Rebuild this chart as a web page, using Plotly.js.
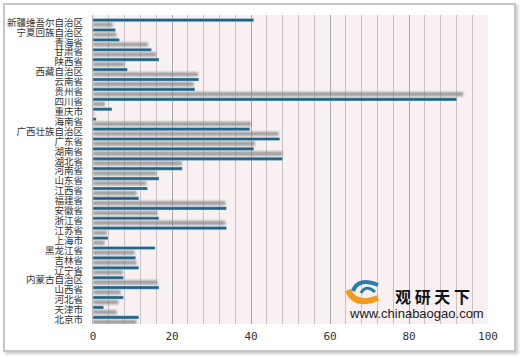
<!DOCTYPE html>
<html>
<head>
<meta charset="utf-8">
<script src="https://cdn.plot.ly/plotly-3.0.1.min.js"></script>
<style>
  html, body { margin: 0; padding: 0; background: #ffffff; }
  #wrap { position: relative; width: 520px; height: 357px; overflow: hidden; }
  #chart { position: absolute; left: 0; top: 0; width: 520px; height: 357px; }
  #frame { position: absolute; left: 3px; top: 3px; width: 513px; height: 349px; box-sizing: border-box;
           border: 2px solid #c6c6c6; box-shadow: 2px 2px 3px rgba(0,0,0,0.22); pointer-events: none; }
</style>
</head>
<body>
<div id="wrap"><div id="chart"></div><div id="frame"></div></div>
<script>
// Categories, top to bottom
const provinces = [
  "新疆维吾尔自治区","宁夏回族自治区","青海省","甘肃省","陕西省","西藏自治区","云南省","贵州省",
  "四川省","重庆市","海南省","广西壮族自治区","广东省","湖南省","湖北省","河南省","山东省",
  "江西省","福建省","安徽省","浙江省","江苏省","上海市","黑龙江省","吉林省","辽宁省",
  "内蒙古自治区","山西省","河北省","天津市","北京市"
];
// Blue series
const blueValues = [
  40.7, 5.7, 6.7, 14.8, 16.7, 8.7, 26.8, 25.8,
  92.1, 4.8, 0.8, 39.7, 47.3, 40.7, 48.0, 22.6, 16.7,
  13.8, 11.6, 33.8, 16.7, 33.8, 3.8, 15.7, 10.8, 11.6,
  7.7, 16.7, 7.7, 2.7, 11.6
];
// Gray (shadowed) series
const grayValues = [
  5.0, 5.9, 13.9, 16.0, 8.0, 26.6, 25.5, 93.7,
  3.0, 0.3, 40.0, 47.0, 41.0, 48.0, 22.5, 16.0, 13.5,
  11.0, 33.5, 16.3, 33.5, 3.5, 2.9, 10.5, 11.0, 7.5,
  16.3, 7.0, 6.4, 6.0, 11.0
];
const xTickValues = [0, 20, 40, 60, 80, 100];

// plot-area geometry (pixels) for positioning the watermark
const PL = 93, PR = 488, PT = 15, PB = 324;
const px = v => (v - PL) / (PR - PL);
const py = v => (PB - v) / (PB - PT);

const traces = [
  {
    type: 'bar', orientation: 'h', name: 'blue',
    y: provinces, x: blueValues,
    offset: -0.4, width: 0.32,
    marker: { color: '#1f6488', line: { color: '#d8e6ee', width: 0.4 } },
    hoverinfo: 'skip'
  },
  {
    type: 'bar', orientation: 'h', name: 'gray',
    y: provinces, x: grayValues,
    offset: 0.02, width: 0.42,
    marker: { color: 'rgba(130,130,130,0.75)' },
    hoverinfo: 'skip'
  }
];

const layout = {
  width: 520, height: 357,
  margin: { l: PL, r: 520 - PR, t: PT, b: 357 - PB, pad: 0 },
  paper_bgcolor: '#ffffff',
  plot_bgcolor: '#f8f0f1',
  barmode: 'overlay',
  showlegend: false,
  xaxis: {
    range: [0, 100],
    tickvals: xTickValues,
    ticktext: xTickValues.map(String),
    showgrid: true, gridcolor: '#a8a8a8', gridwidth: 1,
    minor: { dtick: 4, showgrid: true, gridcolor: '#c8c2c2', gridwidth: 1 },
    zeroline: false, showline: false,
    ticks: 'outside', ticklen: 2, tickcolor: 'rgba(0,0,0,0)',
    tickfont: { family: 'DejaVu Sans Mono, monospace', size: 11, color: '#333333' },
    fixedrange: true
  },
  yaxis: {
    type: 'category',
    range: [30.43, -0.75],
    tickmode: 'array',
    tickvals: provinces,
    ticktext: provinces,
    showgrid: false, zeroline: false,
    showline: true, linecolor: '#b5b5b5', linewidth: 1,
    ticks: 'outside', ticklen: 7, tickcolor: 'rgba(0,0,0,0)',
    tickfont: { family: 'Noto Sans CJK SC, sans-serif', size: 9.5, color: '#333333' },
    fixedrange: true
  },
  shapes: [
    // watermark logo (swirl)
    { type: 'path', xref: 'paper', yref: 'paper',
      path: `M ${px(348)} ${py(290)} Q ${px(355)} ${py(307)} ${px(378)} ${py(298)}`,
      line: { color: '#f39b1f', width: 6 } },
    { type: 'path', xref: 'paper', yref: 'paper',
      path: `M ${px(353)} ${py(291)} Q ${px(358)} ${py(277)} ${px(378)} ${py(285)}`,
      line: { color: '#2b7cae', width: 4 } },
    { type: 'path', xref: 'paper', yref: 'paper',
      path: `M ${px(361)} ${py(293)} Q ${px(366)} ${py(284)} ${px(375)} ${py(292)}`,
      line: { color: '#2b7cae', width: 3 } }
  ],
  annotations: [
    { xref: 'paper', yref: 'paper', x: px(432), y: py(295.5), xanchor: 'center', yanchor: 'middle',
      text: '<b>观 研 天 下</b>', showarrow: false,
      font: { family: 'Noto Sans CJK SC, sans-serif', size: 16, color: '#111111' } },
    { xref: 'paper', yref: 'paper', x: px(416.5), y: py(313.5), xanchor: 'center', yanchor: 'middle',
      text: 'www.chinabaogao.com', showarrow: false,
      font: { family: 'Liberation Sans, Arial, sans-serif', size: 13, color: '#222222' } }
  ]
};

Plotly.newPlot('chart', traces, layout, { staticPlot: true, displayModeBar: false }).then(() => {
  const groups = document.querySelectorAll('.barlayer .trace');
  if (groups.length > 1) groups[1].style.filter = 'blur(0.8px)';
});
</script>
</body>
</html>
